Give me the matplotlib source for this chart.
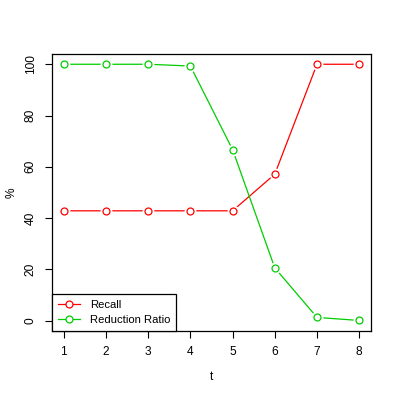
import matplotlib
matplotlib.use("Agg")
import matplotlib.pyplot as plt

t = [1, 2, 3, 4, 5, 6, 7, 8]
recall = [42.86, 42.86, 42.86, 42.86, 42.86, 57.14, 100, 100]
reduction = [100, 100, 100, 99.3, 66.7, 20.6, 1.3, 0.1]
xticks = [1, 2, 3, 4, 5, 6, 7, 8]
yticks = [0, 20, 40, 60, 80, 100]

plt.rcParams['font.family'] = ['Liberation Sans', 'DejaVu Sans']
fs = 8.6

fig = plt.figure(figsize=(3.99, 3.99), dpi=100)
ax = fig.add_axes([52/399, 1-331/399, (371-52)/399, (331-54)/399])

red = '#FF0000'
green = '#00CD00'
for y, c, lab in [(recall, red, 'Recall'), (reduction, green, 'Reduction Ratio')]:
    ax.plot(t, y, color=c, lw=0.9, zorder=2)
    ax.plot(t, y, ls='none', marker='o', ms=8.5, mfc='white', mec='none', zorder=3)
    ax.plot(t, y, ls='none', marker='o', ms=5, mfc='none', mec=c, mew=0.9, zorder=4)
    ax.plot([], [], color=c, lw=0.9, marker='o', ms=5, mfc='white', mec=c, mew=0.9, label=lab)

ax.set_xlim(1 - 0.28, 8 + 0.28)
ax.set_ylim(-4, 104)
ax.set_xticks(xticks)
ax.set_yticks(yticks)
ax.set_yticklabels([str(v) for v in yticks], rotation=90, va='center')
ax.tick_params(labelsize=fs, length=5, width=0.8, direction='out', pad=6)
for s in ax.spines.values():
    s.set_linewidth(0.9)

ax.set_xlabel('t', fontsize=fs, labelpad=9)
ax.set_ylabel('%', fontsize=fs, labelpad=5)

leg = ax.legend(loc='lower left', fontsize=8.1, frameon=True, fancybox=False,
                edgecolor='black', borderaxespad=0, framealpha=1,
                handlelength=1.9, borderpad=0.55, labelspacing=0.45, handletextpad=0.9)
leg.get_frame().set_linewidth(0.9)

fig.savefig('out.png', dpi=100)
